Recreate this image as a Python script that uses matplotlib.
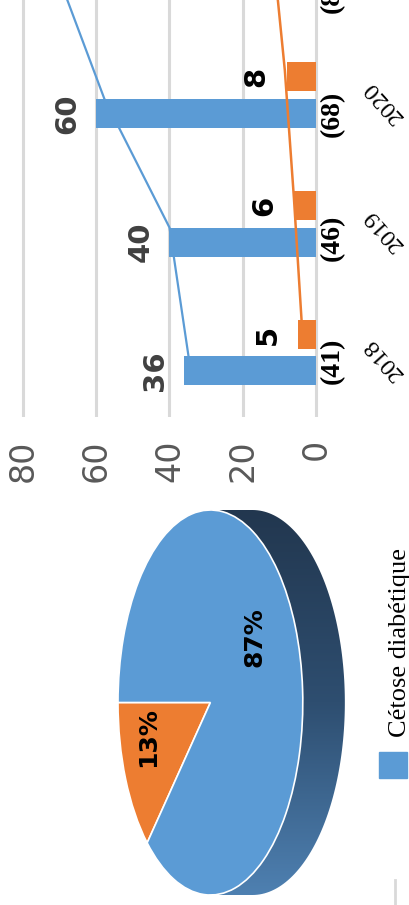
import numpy as np
import matplotlib.pyplot as plt
from matplotlib import font_manager
from matplotlib.patches import Polygon, Rectangle
from matplotlib.lines import Line2D
from matplotlib.colors import LinearSegmentedColormap

years = ['2018', '2019', '2020']
counts = ['(41)', '(46)', '(68)', '(84)']
blue_vals = [36, 40, 60]
orange_vals = [5, 6, 8]
blue_line = [34.8, 40.0, 57.8, 71.0]
orange_line = [3.8, 6.0, 8.5, 12.0]
ticks = [0, 20, 40, 60, 80]
pie_vals = [13, 87]
legend_label = 'Cétose diabétique'

BLUE = '#5B9BD5'
ORANGE = '#ED7D31'
GRID = '#D9D9D9'

installed = {f.name for f in font_manager.fontManager.ttflist}
narrow = 'Liberation Sans Narrow' if 'Liberation Sans Narrow' in installed else 'DejaVu Sans'
sans = [narrow, 'DejaVu Sans']
serif = ['Liberation Serif', 'DejaVu Serif']

W, H = 409, 905
fig = plt.figure(figsize=(W / 100, H / 100), dpi=100)


def box(x0, y0, x1, y1):
    # pixel box, origin top-left -> figure fraction
    return [x0 / W, 1 - y1 / H, (x1 - x0) / W, (y1 - y0) / H]


# ---- bar chart, drawn sideways
ax = fig.add_axes(box(13, 0, 326, 417))
idx = np.arange(len(blue_vals))
bw = 0.225
bars_b = ax.barh(idx - 0.143, blue_vals, height=bw, color=BLUE, zorder=2)
bars_o = ax.barh(idx + 0.14, orange_vals, height=bw, color=ORANGE, zorder=2)
ax.plot(blue_line, np.arange(len(blue_line)) - 0.03, color=BLUE, lw=1.6, zorder=3)
ax.plot(orange_line, np.arange(len(orange_line)) + 0.19, color=ORANGE, lw=1.8, zorder=3)

ax.set_xlim(82.74, -2.74)
ax.set_ylim(-0.5, 2.736)
ax.set_xticks(ticks)
ax.set_xticklabels([str(t) for t in ticks], rotation=90, fontsize=24,
                   color='#595959', family=sans)
ax.tick_params(axis='x', length=0, pad=16)
ax.set_yticks([])
ax.grid(axis='x', color=GRID, lw=2.2, zorder=0)
ax.set_axisbelow(True)
for s in ax.spines.values():
    s.set_visible(False)

for rect, v in zip(bars_b, blue_vals):
    ax.annotate(str(v), (v, rect.get_y() + rect.get_height() / 2), xytext=(-29, 0),
                textcoords='offset pixels', ha='center', va='center', rotation=90,
                fontsize=21, fontweight='bold', color='#404040', family=sans)
for rect, v in zip(bars_o, orange_vals):
    ax.annotate(str(v), (v, rect.get_y() + rect.get_height() / 2), xytext=(-30, 0),
                textcoords='offset pixels', ha='center', va='center', rotation=90,
                fontsize=21, fontweight='bold', color='black', family=sans)

for i, c in enumerate(counts):
    ax.annotate(c, (0, i * 0.96 - 0.066), xytext=(16, 0), textcoords='offset pixels',
                ha='center', va='center', rotation=90, fontsize=20, fontweight='bold',
                family=serif, annotation_clip=False)
for i, y in enumerate(years):
    ax.annotate(y, (0, i - 0.05), xytext=(68, 0), textcoords='offset pixels',
                ha='center', va='center', rotation=132, fontsize=17.5,
                family=serif, annotation_clip=False)

# ---- 3D-looking pie, drawn sideways
pax = fig.add_axes(box(118, 510, 349, 895))
d = 0.455
t = np.linspace(np.pi / 2, -np.pi / 2, 120)
side = np.column_stack([np.r_[0, d + np.cos(t), 0], np.r_[1, np.sin(t), -1]])
side_patch = Polygon(side, closed=True, facecolor='none', edgecolor='none')
pax.add_patch(side_patch)
cmap = LinearSegmentedColormap.from_list('side', ['#4E80B1', '#2E4E70', '#22374F'])
grad = np.linspace(0, 1, 256).reshape(-1, 1)
img = pax.imshow(grad, cmap=cmap, extent=(-1, 1.5, -1, 1), origin='lower',
                 aspect='auto', zorder=1)
img.set_clip_path(side_patch)

wedges, texts, autotexts = pax.pie(
    pie_vals, colors=[ORANGE, BLUE], startangle=180, counterclock=True,
    autopct=lambda p: f'{p:.0f}%',
    wedgeprops=dict(edgecolor='white', linewidth=1.2, zorder=2))
for w in wedges:
    w.set_zorder(2)
label_pos = [(-0.67, -0.18), (0.48, 0.34)]
for txt, pos in zip(autotexts, label_pos):
    txt.set_position(pos)
    txt.set_rotation(90)
    txt.set_fontsize(18)
    txt.set_fontweight('bold')
    txt.set_family(sans)
    txt.set_color('black')
    txt.set_zorder(4)
pax.set_aspect('auto')
pax.set_xlim(-1, 1.5)
pax.set_ylim(-1, 1)
pax.axis('off')

# ---- legend (only first entry inside the frame)
fig.add_artist(Rectangle((379 / W, 1 - 778 / H), 28 / W, 26 / H,
                         transform=fig.transFigure, color=BLUE))
fig.text(406 / W, 1 - 737 / H, legend_label, rotation=90, rotation_mode='anchor',
         ha='left', va='baseline', fontsize=19, family=serif)
fig.add_artist(Line2D([395 / W, 395 / W], [1 - 880 / H, 0], color=GRID, lw=2,
                      transform=fig.transFigure))

fig.savefig('out.png', dpi=100)
